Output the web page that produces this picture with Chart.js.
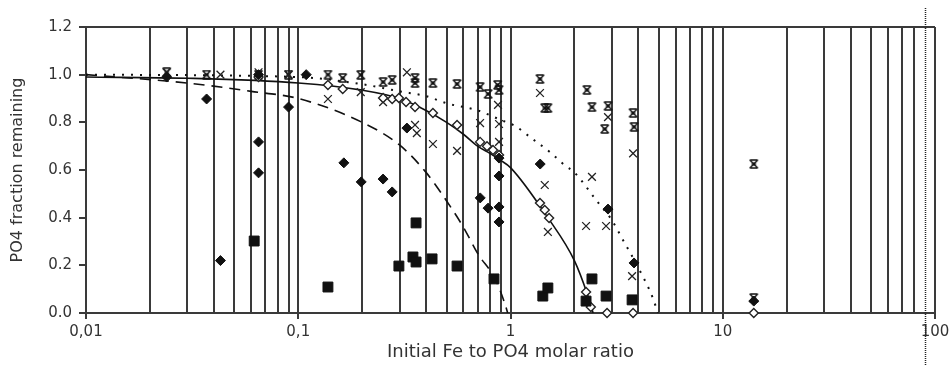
<!DOCTYPE html>
<html>
<head>
<meta charset="utf-8">
<script src="https://cdn.jsdelivr.net/npm/chart.js@4.4.1/dist/chart.umd.min.js"></script>
<style>
  html, body { margin: 0; padding: 0; background: #fff; }
  #box { width: 950px; height: 365px; }
</style>
</head>
<body>
<div id="box"><canvas id="myChart" width="950" height="365"></canvas></div>
<script>
'use strict';

// filled diamonds
var diamondX = [0.024, 0.037, 0.043, 0.065, 0.065, 0.065, 0.09, 0.109, 0.164, 0.198, 0.251, 0.277, 0.325, 0.72, 0.784, 0.883, 0.883, 0.883, 0.883, 1.38, 2.88, 3.82, 14.0];
var diamondY = [0.99, 0.898, 0.22, 1.0, 0.718, 0.588, 0.864, 1.0, 0.63, 0.55, 0.562, 0.508, 0.776, 0.483, 0.44, 0.65, 0.575, 0.445, 0.382, 0.625, 0.436, 0.21, 0.05];

// filled squares
var squareX = [0.062, 0.138, 0.298, 0.347, 0.359, 0.359, 0.427, 0.56, 0.836, 1.42, 1.50, 2.27, 2.42, 2.82, 3.74];
var squareY = [0.302, 0.109, 0.197, 0.235, 0.214, 0.378, 0.227, 0.197, 0.143, 0.071, 0.105, 0.05, 0.143, 0.071, 0.055];

// open diamonds
var openX = [0.065, 0.138, 0.162, 0.251, 0.277, 0.298, 0.322, 0.355, 0.431, 0.56, 0.719, 0.775, 0.827, 0.883, 1.377, 1.45, 1.52, 2.27, 2.39, 2.85, 3.78, 14.0];
var openY = [0.99, 0.957, 0.94, 0.902, 0.898, 0.902, 0.885, 0.864, 0.839, 0.789, 0.718, 0.70, 0.684, 0.663, 0.462, 0.432, 0.399, 0.088, 0.025, 0.0, 0.0, 0.0];

// crosses
var crossX = [0.024, 0.043, 0.065, 0.09, 0.138, 0.197, 0.251, 0.325, 0.355, 0.362, 0.431, 0.56, 0.719, 0.873, 0.883, 0.883, 1.377, 1.45, 1.50, 2.27, 2.42, 2.82, 2.88, 3.74, 3.78];
var crossY = [1.01, 1.0, 1.01, 1.0, 0.898, 0.927, 0.885, 1.01, 0.789, 0.755, 0.709, 0.68, 0.797, 0.873, 0.793, 0.718, 0.923, 0.537, 0.34, 0.365, 0.571, 0.365, 0.822, 0.155, 0.67];

// hourglass asterisks
var starX = [0.024, 0.037, 0.065, 0.09, 0.138, 0.162, 0.197, 0.251, 0.277, 0.355, 0.355, 0.431, 0.56, 0.719, 0.784, 0.87, 0.883, 1.377, 1.45, 1.50, 2.29, 2.42, 2.78, 2.88, 3.78, 3.82, 14.0, 14.0];
var starY = [1.01, 1.0, 1.0, 1.0, 1.0, 0.986, 0.999, 0.969, 0.978, 0.986, 0.965, 0.965, 0.961, 0.948, 0.919, 0.957, 0.936, 0.982, 0.86, 0.86, 0.936, 0.864, 0.772, 0.869, 0.839, 0.781, 0.625, 0.063];

// model curves
var solidX = [0.01, 0.03, 0.1, 0.2, 0.3, 0.4, 0.5, 0.6, 0.7, 0.8, 0.9, 1.0, 1.5, 2.0, 2.3, 2.45];
var solidY = [0.99, 0.985, 0.965, 0.935, 0.9, 0.85, 0.8, 0.75, 0.7, 0.67, 0.64, 0.61, 0.4, 0.22, 0.08, 0.0];
var dashX = [0.01, 0.03, 0.06, 0.1, 0.2, 0.3, 0.4, 0.5, 0.6, 0.7, 0.85, 0.94, 0.97];
var dashY = [1.0, 0.965, 0.93, 0.9, 0.8, 0.705, 0.59, 0.47, 0.36, 0.25, 0.14, 0.04, 0.0];
var dotX = [0.01, 0.1, 0.2, 0.3, 0.4, 0.5, 0.7, 0.9, 1.05, 1.27, 1.53, 1.8, 2.0, 2.55, 3.0, 3.37, 4.0, 4.65, 4.95];
var dotY = [1.0, 0.99, 0.96, 0.93, 0.91, 0.88, 0.85, 0.81, 0.785, 0.73, 0.676, 0.62, 0.59, 0.47, 0.39, 0.31, 0.19, 0.07, 0.0];

// axis ticks
var xDecades = [-2, -1, 0, 1, 2];
var xTickLabels = ['0,01', '0,1', '1', '10', '100'];
var yTicks = [0, 0.2, 0.4, 0.6, 0.8, 1.0, 1.2];

function toPoints(xs, ys) {
  var pts = [];
  for (var i = 0; i < xs.length; i++) {
    pts.push({x: xs[i], y: ys[i]});
  }
  return pts;
}

// every 1..9 x 10^n between 0.01 and 100
var gridValues = [];
for (var d = 0; d < xDecades.length; d++) {
  var lastM = d === xDecades.length - 1 ? 1 : 9;
  for (var m = 1; m <= lastM; m++) {
    gridValues.push(Number(m + 'e' + xDecades[d]));
  }
}

function majorIndex(v) {
  var lg = Math.log10(v);
  if (Math.abs(lg - Math.round(lg)) > 1e-9) return -1;
  return xDecades.indexOf(Math.round(lg));
}

function makeHourglass() {
  var c = document.createElement('canvas');
  c.width = 11;
  c.height = 10;
  var g = c.getContext('2d');
  g.strokeStyle = '#111';
  g.lineWidth = 1.4;
  g.beginPath();
  g.moveTo(1.5, 1); g.lineTo(9.5, 1);
  g.moveTo(1.5, 9); g.lineTo(9.5, 9);
  g.moveTo(1.5, 1); g.lineTo(9.5, 9);
  g.moveTo(9.5, 1); g.lineTo(1.5, 9);
  g.stroke();
  g.fillStyle = '#111';
  g.fillRect(3.5, 3.5, 4, 3);
  return c;
}

var ink = '#111';
var gridInk = '#3a3a3a';
var dottedAt = 90;

var frame = {
  id: 'frame',
  afterDraw: function(chart) {
    var c2 = chart.ctx;
    var a = chart.chartArea;
    c2.save();
    c2.strokeStyle = gridInk;
    c2.lineWidth = 2;
    c2.beginPath();
    c2.moveTo(a.left, a.top);
    c2.lineTo(a.right, a.top);
    c2.stroke();
    // the 90 line is dotted and runs past the plot
    var px = Math.round(chart.scales.x.getPixelForValue(dottedAt)) + 0.5;
    c2.strokeStyle = '#222';
    c2.lineWidth = 1.5;
    c2.setLineDash([1, 1]);
    c2.beginPath();
    c2.moveTo(px, 8);
    c2.lineTo(px, chart.height);
    c2.stroke();
    c2.restore();
  }
};

var tickFont = {family: 'DejaVu Sans', size: 15};

var ctx = document.getElementById('myChart');
var myChart = new Chart(ctx, {
  type: 'scatter',
  data: {
    datasets: [{
      label: 'filled diamond',
      data: toPoints(diamondX, diamondY),
      pointStyle: 'rectRot',
      pointRadius: 5,
      backgroundColor: ink,
      borderColor: ink,
      borderWidth: 1,
      clip: false
    }, {
      label: 'filled square',
      data: toPoints(squareX, squareY),
      pointStyle: 'rect',
      pointRadius: 7,
      backgroundColor: ink,
      borderColor: ink,
      borderWidth: 1,
      clip: false
    }, {
      label: 'open diamond',
      data: toPoints(openX, openY),
      pointStyle: 'rectRot',
      pointRadius: 4.5,
      backgroundColor: '#fff',
      borderColor: '#222',
      borderWidth: 1.4,
      clip: false
    }, {
      label: 'cross',
      data: toPoints(crossX, crossY),
      pointStyle: 'crossRot',
      pointRadius: 5.5,
      borderColor: '#222',
      borderWidth: 1.3,
      clip: false
    }, {
      label: 'asterisk',
      data: toPoints(starX, starY),
      pointStyle: makeHourglass(),
      pointRadius: 5,
      clip: false
    }, {
      label: 'solid',
      data: toPoints(solidX, solidY),
      showLine: true,
      pointRadius: 0,
      borderColor: ink,
      borderWidth: 1.6,
      cubicInterpolationMode: 'monotone'
    }, {
      label: 'dashed',
      data: toPoints(dashX, dashY),
      showLine: true,
      pointRadius: 0,
      borderColor: ink,
      borderWidth: 1.6,
      borderDash: [11, 7],
      cubicInterpolationMode: 'monotone'
    }, {
      label: 'dotted',
      data: toPoints(dotX, dotY),
      showLine: true,
      pointRadius: 0,
      borderColor: ink,
      borderWidth: 2,
      borderDash: [2, 7],
      cubicInterpolationMode: 'monotone'
    }]
  },
  options: {
    responsive: false,
    animation: false,
    layout: {padding: {top: 27, right: 15, left: 0, bottom: 0}},
    plugins: {
      legend: {display: false},
      tooltip: {enabled: false}
    },
    scales: {
      x: {
        type: 'logarithmic',
        min: 0.01,
        max: 100,
        afterBuildTicks: function(scale) {
          scale.ticks = gridValues.map(function(v) { return {value: v}; });
        },
        afterFit: function(scale) {
          scale.height = 52;
          scale.paddingLeft = 0;
          scale.paddingRight = 0;
        },
        ticks: {
          autoSkip: false,
          maxRotation: 0,
          minRotation: 0,
          padding: 4,
          color: '#333',
          font: tickFont,
          callback: function(value) {
            var k = majorIndex(value);
            return k >= 0 ? xTickLabels[k] : '';
          }
        },
        grid: {
          lineWidth: 2,
          tickLength: 6,
          color: function(c) {
            if (c.tick && Math.abs(c.tick.value - dottedAt) < 1e-6) return 'rgba(0,0,0,0)';
            return gridInk;
          },
          tickColor: function(c) {
            return c.tick && majorIndex(c.tick.value) >= 0 ? gridInk : 'rgba(0,0,0,0)';
          }
        },
        border: {display: true, color: gridInk, width: 2},
        title: {
          display: true,
          text: 'Initial Fe to PO4 molar ratio',
          color: '#333',
          font: {family: 'DejaVu Sans', size: 18},
          padding: {top: 0, bottom: 2}
        }
      },
      y: {
        min: 0,
        max: 1.2,
        afterBuildTicks: function(scale) {
          scale.ticks = yTicks.map(function(v) { return {value: v}; });
        },
        afterFit: function(scale) { scale.width = 86; },
        ticks: {
          padding: 7,
          color: '#333',
          font: tickFont,
          callback: function(value) { return Number(value).toFixed(1); }
        },
        grid: {
          drawOnChartArea: false,
          tickLength: 7,
          lineWidth: 2,
          color: gridInk
        },
        border: {display: true, color: gridInk, width: 2},
        title: {
          display: true,
          text: 'PO4 fraction remaining',
          color: '#333',
          font: {family: 'DejaVu Sans', size: 16},
          padding: {top: 8, bottom: 0}
        }
      }
    }
  },
  plugins: [frame]
});
</script>
</body>
</html>
